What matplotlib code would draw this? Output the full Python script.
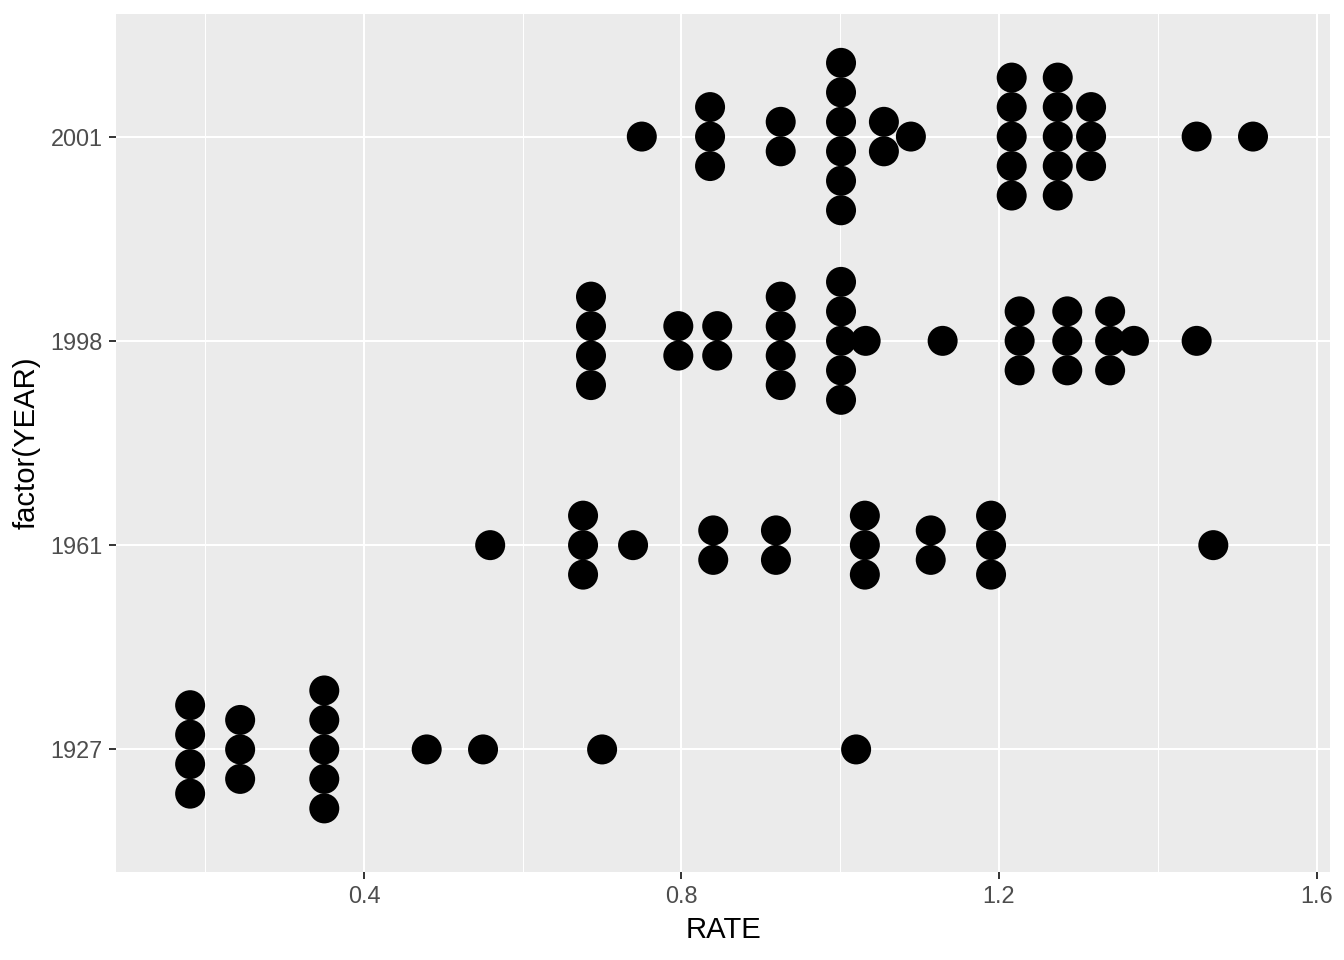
import matplotlib
matplotlib.use('Agg')
import matplotlib.pyplot as plt
import numpy as np

plt.rcParams['font.family'] = ['Liberation Sans', 'DejaVu Sans']

# data: one entry per dot (repeated rates give stacked dots)
years = ['1927', '1961', '1998', '2001']
rate_1927 = [0.181]*4 + [0.244]*3 + [0.350]*5 + [0.479, 0.550, 0.700, 1.020]
rate_1961 = [0.559] + [0.676]*3 + [0.739] + [0.840]*2 + [0.919]*2 + [1.031]*3 + [1.114]*2 + [1.190]*3 + [1.470]
rate_1998 = [0.686]*4 + [0.796]*2 + [0.845]*2 + [0.925]*4 + [1.001]*5 + [1.032, 1.129] + [1.226]*3 + [1.286]*3 + [1.340]*3 + [1.370, 1.449]
rate_2001 = [0.750] + [0.836]*3 + [0.925]*2 + [1.001]*6 + [1.055]*2 + [1.089] + [1.216]*5 + [1.274]*5 + [1.316]*3 + [1.449, 1.520]
rates = [rate_1927, rate_1961, rate_1998, rate_2001]

W, H = 1344, 960
fig = plt.figure(figsize=(W/100, H/100), dpi=100)
# panel placed in pixels
l, r, t, b = 116, 1330, 14, 872
ax = fig.add_axes([l/W, 1 - b/H, (r-l)/W, (b-t)/H])
ax.set_facecolor('#EBEBEB')
for s in ax.spines.values():
    s.set_visible(False)

step = 29.5 / 204.4  # stack spacing in category units
for i, vals in enumerate(rates):
    u, c = np.unique(vals, return_counts=True)
    for v, n in zip(u, c):
        offs = (np.arange(n) - (n - 1) / 2) * step
        ax.scatter([v]*n, i + 1 + offs, s=(30*0.72)**2, color='black',
                   edgecolors='none', zorder=3)

ax.set_xlim(0.0876, 1.617)
ax.set_ylim(0.4, 4.6)
ax.set_xticks([0.4, 0.8, 1.2, 1.6])
ax.set_xticklabels(['0.4', '0.8', '1.2', '1.6'])
ax.set_xticks([0.2, 0.6, 1.0, 1.4], minor=True)
ax.set_yticks([1, 2, 3, 4])
ax.set_yticklabels(years)
ax.grid(which='major', color='white', linewidth=1.45, zorder=0)
ax.grid(which='minor', axis='x', color='white', linewidth=0.72, zorder=0)
ax.set_axisbelow(True)
ax.tick_params(which='major', length=5.3, width=1.4, color='#333333',
               labelcolor='#4D4D4D', labelsize=16.9, pad=4.2)
ax.tick_params(which='minor', length=0)

fig.text((l + r) / 2 / W, 1 - 930 / H, 'RATE', ha='center', va='center', fontsize=21.1)
fig.text(27 / W, 1 - (t + b) / 2 / H, 'factor(YEAR)', ha='center', va='center',
         rotation=90, fontsize=21.1)

plt.savefig('out.png', dpi=100)
